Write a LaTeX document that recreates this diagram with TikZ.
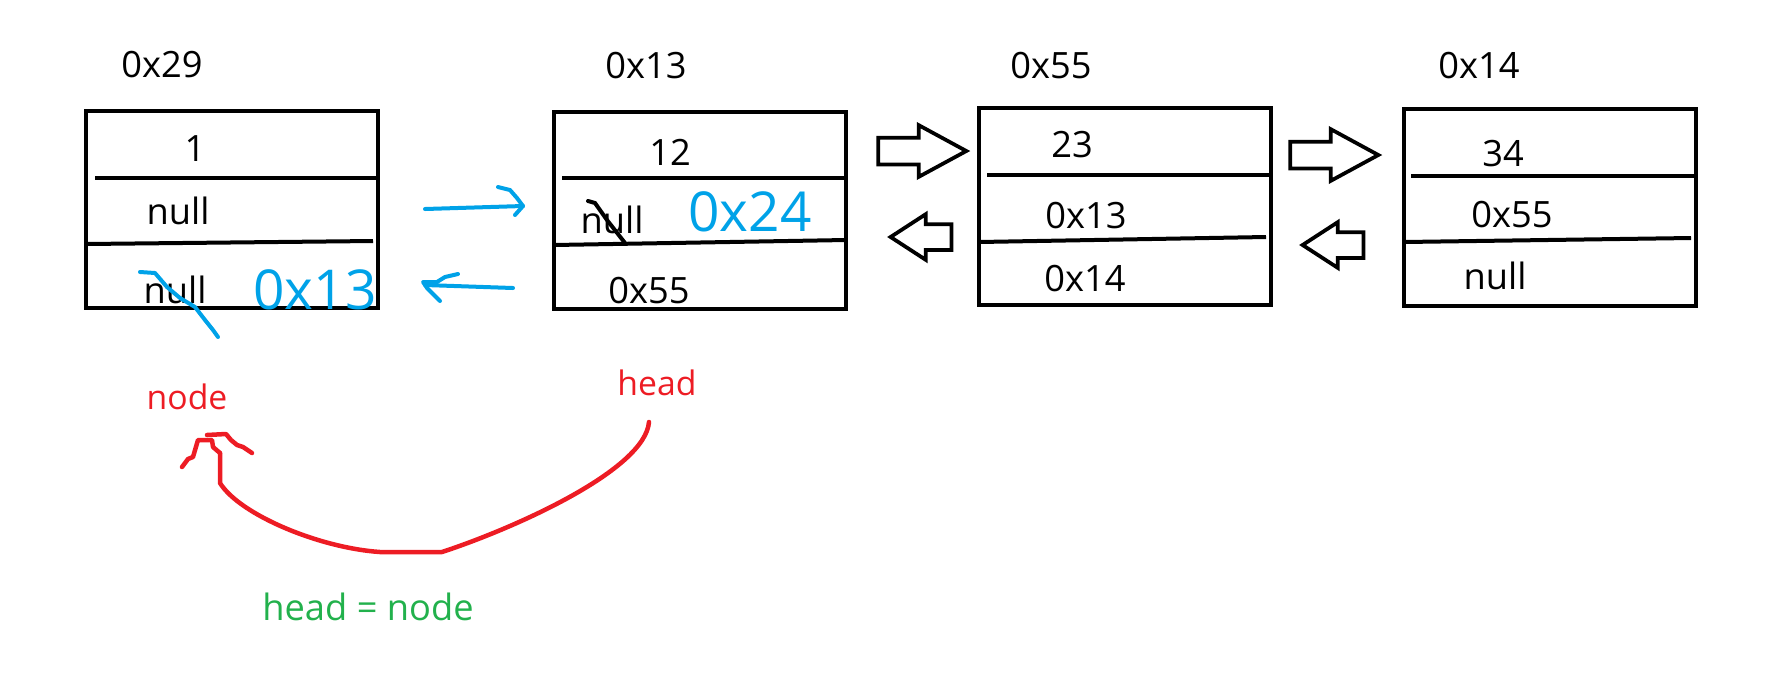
\documentclass[tikz,border=0pt]{standalone}
\usepackage{fontspec}
\setmainfont{Open Sans}
\usetikzlibrary{shapes,arrows,positioning,calc}

\definecolor{inkblue}{RGB}{0,162,232}
\definecolor{inkred}{RGB}{237,28,36}
\definecolor{inkgreen}{RGB}{34,177,76}

\begin{document}
\begin{tikzpicture}[x=0.4pt, y=-0.4pt,
    box/.style={rectangle, draw=black, line width=1.6pt, minimum width=116.8pt,
                minimum height=78.8pt, inner sep=0pt},
    divider/.style={line width=1.6pt},
    lbl/.style={inner sep=0pt, font=\fontsize{14.5}{17}\selectfont},
    fwd/.style={single arrow, draw=black, line width=1.5pt, fill=white,
                text height=0pt, text depth=0pt, inner xsep=0pt, inner ysep=4.6pt,
                minimum height=35.2pt, minimum width=19.2pt,
                single arrow head extend=5pt, single arrow tip angle=57},
    bwd/.style={single arrow, draw=black, line width=1.5pt, fill=white,
                text height=0pt, text depth=0pt, inner xsep=0pt, inner ysep=4.4pt,
                minimum height=24.4pt, minimum width=16.8pt,
                single arrow head extend=4pt, single arrow tip angle=66,
                shape border rotate=180},
    pen/.style={draw=inkblue, line width=1.6pt, line cap=round, line join=round},
    scrawl/.style={inner sep=0pt, text=inkblue, font=\fontsize{22}{24}\selectfont},
    redpen/.style={draw=inkred, line width=1.8pt, line cap=round, line join=round}
]
\useasboundingbox (0,0) rectangle (1780,682);

% Box 0x29
\node[box] (box1) at (232,209.5) {};
\node[lbl] (addr1) at (162,65) {0x29};
\node[lbl] (val1) at (195,149) {1};
\node[lbl] (prev1) at (178,211) {null};
\node[lbl] (next1) at (175,290) {null};
\draw[divider] (95,178) -- (378,178);
\draw[divider] (86,244) -- (373,241);

% Box 0x13
\node[box] (box2) at (700,210) {};
\node[lbl] (addr2) at (646,66) {0x13};
\node[lbl] (val2) at (670,152) {12};
\node[lbl] (prev2) at (612,220) {null};
\node[lbl] (next2) at (649,291) {0x55};
\draw[divider] (562,178) -- (846,178);
\draw[divider] (554,245) -- (846,240);

% Box 0x55
\node[box] (box3) at (1124.5,206.5) {};
\node[lbl] (addr3) at (1051,66) {0x55};
\node[lbl] (val3) at (1072,145) {23};
\node[lbl] (prev3) at (1086,216) {0x13};
\node[lbl] (next3) at (1085,279) {0x14};
\draw[divider] (987,175) -- (1270,175);
\draw[divider] (979,242) -- (1266,237);

% Box 0x14
\node[box] (box4) at (1550,207.5) {};
\node[lbl] (addr4) at (1479,66) {0x14};
\node[lbl] (val4) at (1503,154) {34};
\node[lbl] (prev4) at (1512,215) {0x55};
\node[lbl] (next4) at (1495,276) {null};
\draw[divider] (1411,176) -- (1696,176);
\draw[divider] (1404,242) -- (1691,238);

% Block arrows
\node[fwd] (fwd1) at (910,151) {};
\node[bwd] (bwd1) at (931,237) {};
\node[fwd] (fwd2) at (1322,155) {};
\node[bwd] (bwd2) at (1343,245) {};

% Blue pen
\coordinate (pa) at (425,209);
\coordinate (pb) at (523,206);
\draw[pen] (pa) -- (pb);
\draw[pen] (498,187) -- (510,190) -- (517,198) -- (pb) -- (515,215);
\coordinate (pc) at (513,288);
\coordinate (pd) at (425,285);
\draw[pen] (pc) -- (pd);
\draw[pen] (458,274) -- (445,277) -- (437,282) -- (423,282) -- (427,288) -- (440,301);
\draw[pen] (140,272) -- (155,273) -- (167,287) -- (180,298) -- (195,307)
    -- (205,320) -- (213,330) -- (218,337);
\node[scrawl] (fix1) at (315,290) {0x13};
\draw[line width=1.6pt, line cap=round] (588,201) -- (595,203) -- (607,220) -- (625,243);
\node[scrawl] (fix2) at (750,212) {0x24};

% head = node
\node[inner sep=0pt, text=inkred, font=\fontsize{13.5}{15}\selectfont] (nodelbl) at (187,397) {node};
\node[inner sep=0pt, text=inkred, font=\fontsize{13.5}{15}\selectfont] (headlbl) at (657,383) {head};
\coordinate (cstart) at (649,422);
\coordinate (cend) at (220,453);
\draw[redpen] (cstart) .. controls (645,470) and (515,528) .. (442,552) -- (380,552)
    .. controls (320,548) and (240,515) .. (220,483) -- (cend);
\draw[redpen] (cend) -- (213,447) -- (212,440) -- (198,440) -- (193,457) -- (188,459) -- (182,467);
\draw[redpen] (207,435) -- (226,434) -- (231,440) -- (237,445) -- (243,447) -- (252,453);
\node[inner sep=0pt, text=inkgreen, font=\fontsize{14.5}{17}\selectfont] (assign) at (368,607) {head = node};

\end{tikzpicture}
\end{document}
